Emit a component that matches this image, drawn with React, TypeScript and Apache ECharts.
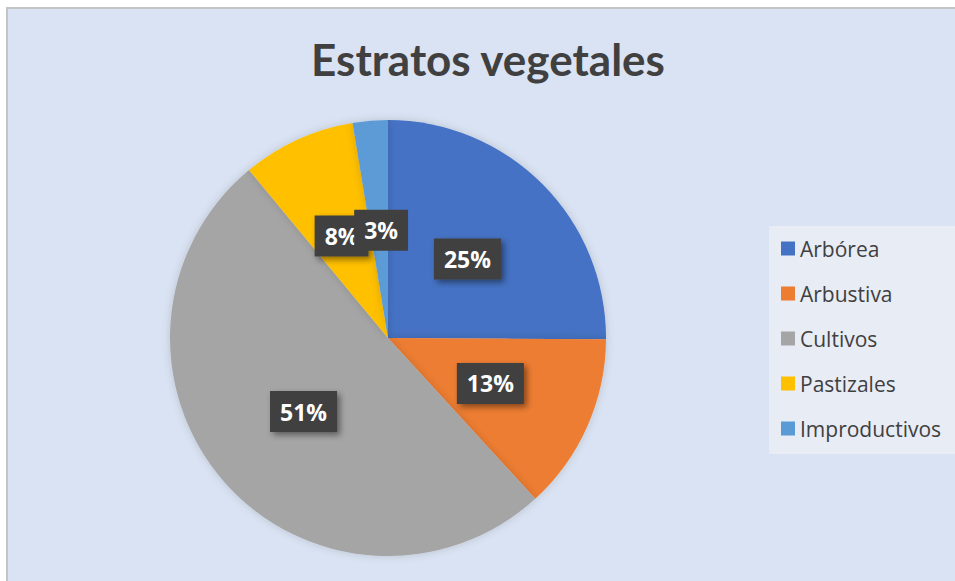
import React, { useEffect, useRef } from "react";
import * as echarts from "echarts";

const categories = ["Arbórea", "Arbustiva", "Cultivos", "Pastizales", "Improductivos"];
const values = [25.1, 13.1, 50.8, 8.4, 2.6];
const colors = ["#4472c4", "#ed7d31", "#a5a5a5", "#ffc000", "#5b9bd5"];
const titleText = "Estratos vegetales";

const CX = 388;
const CY = 338;
const R = 218;

const labelFont = "bold 23px 'Open Sans'";

export default function App() {
  const ref = useRef<HTMLDivElement>(null);
  useEffect(() => {
    if (!ref.current) return;
    const chart = echarts.init(ref.current, null, { renderer: "svg" });
    const total = values.reduce((a, b) => a + b, 0);
    // ECharts hides inside labels that do not fit their sector; the reference
    // shows them anyway, so the tiny slice's label is placed from the data here.
    const smallIdx = values.length - 1;
    let cum = 0;
    for (let i = 0; i < smallIdx; i++) cum += values[i];
    const midFrac = (cum + values[smallIdx] / 2) / total;
    const ang = midFrac * Math.PI * 2;
    const lx = CX + (R / 2) * Math.sin(ang);
    const ly = CY - (R / 2) * Math.cos(ang);
    const smallText = Math.round((values[smallIdx] / total) * 100) + "%";

    chart.setOption({
      animation: false,
      backgroundColor: "#ffffff",
      color: colors,
      graphic: [
        {
          type: "rect",
          shape: { x: 7, y: 8, width: 960, height: 600 },
          style: { fill: "#dae3f3", stroke: "#c4c4c4", lineWidth: 2 },
          z: -10,
        },
        {
          type: "text",
          x: lx + 2,
          y: ly + 1,
          z: 100,
          style: {
            text: smallText,
            font: labelFont,
            fill: "#ffffff",
            align: "center",
            verticalAlign: "middle",
            backgroundColor: "#404040",
            padding: [9, 10, 9, 10],
            boxShadowColor: "rgba(0,0,0,0.45)",
            boxShadowBlur: 6,
            boxShadowOffsetX: 3,
            boxShadowOffsetY: 3,
          },
        },
      ],
      title: {
        text: titleText,
        left: 483,
        top: 32,
        textAlign: "center",
        textStyle: {
          fontFamily: "Lato",
          fontWeight: "bold",
          fontSize: 44,
          color: "#404040",
        },
      },
      legend: {
        orient: "vertical",
        left: 769,
        top: 226,
        width: 184,
        padding: [12, 30, 15, 12],
        backgroundColor: "rgba(236,239,246,0.75)",
        itemWidth: 14,
        itemHeight: 14,
        itemGap: 24,
        icon: "rect",
        textStyle: {
          fontFamily: "Open Sans",
          fontSize: 21,
          color: "#404040",
          lineHeight: 20,
        },
        data: categories,
      },
      series: [
        {
          type: "pie",
          center: [CX, CY],
          radius: R,
          startAngle: 90,
          clockwise: true,
          avoidLabelOverlap: false,
          itemStyle: {
            shadowColor: "rgba(0,0,0,0.15)",
            shadowBlur: 8,
          },
          label: {
            show: true,
            position: "inside",
            formatter: (p: any) => Math.round(p.percent) + "%",
            fontFamily: "Open Sans",
            fontWeight: "bold",
            fontSize: 23,
            color: "#ffffff",
            backgroundColor: "#404040",
            padding: [9, 10, 9, 10],
            shadowColor: "rgba(0,0,0,0.45)",
            shadowBlur: 6,
            shadowOffsetX: 3,
            shadowOffsetY: 3,
          },
          labelLine: { show: false },
          emphasis: { disabled: true },
          data: categories.map((name, i) => ({ name, value: values[i] })),
        },
      ],
    });
    return () => chart.dispose();
  }, []);
  return (
    <div
      ref={ref}
      style={{ position: "fixed", left: 0, top: 0, width: 955, height: 581 }}
    />
  );
}
